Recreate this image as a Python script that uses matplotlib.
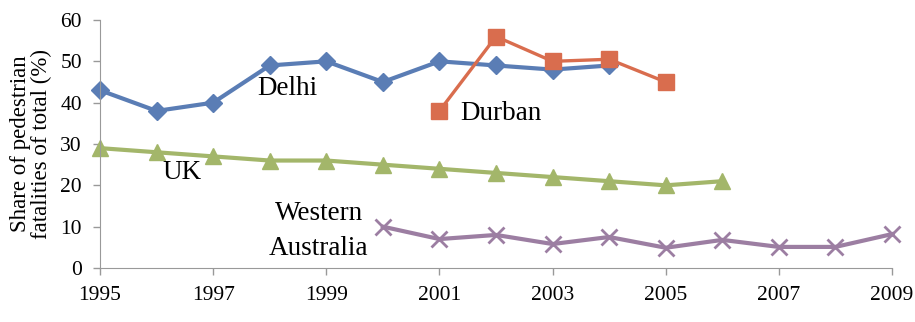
import matplotlib
matplotlib.use('Agg')
import matplotlib.pyplot as plt

plt.rcParams['font.family'] = ['Liberation Serif', 'DejaVu Serif']

# share of pedestrian fatalities (%) by year
delhi_years = [1995, 1996, 1997, 1998, 1999, 2000, 2001, 2002, 2003, 2004]
delhi = [43, 38, 40, 49, 50, 45, 50, 49, 48, 49]

durban_years = [2001, 2002, 2003, 2004, 2005]
durban = [38, 56, 50, 50.5, 45]

uk_years = [1995, 1996, 1997, 1998, 1999, 2000, 2001, 2002, 2003, 2004, 2005, 2006]
uk = [29, 28, 27, 26, 26, 25, 24, 23, 22, 21, 20, 21]

wa_years = [2000, 2001, 2002, 2003, 2004, 2005, 2006, 2007, 2008, 2009]
wa = [10, 7, 8, 5.8, 7.5, 4.9, 6.8, 5.1, 5.1, 8.2]

year_ticks = [1995, 1997, 1999, 2001, 2003, 2005, 2007, 2009]
y_ticks = [0, 10, 20, 30, 40, 50, 60]

fig = plt.figure(figsize=(9.15, 3.22), dpi=100)
ax = fig.add_axes([100 / 915, 54 / 322, 792 / 915, 248 / 322])

ax.plot(delhi_years, delhi, color='#5a7db5', lw=3, marker='D', ms=9, clip_on=False)
ax.plot(durban_years, durban, color='#d96d4e', lw=2.4, marker='s', ms=11, clip_on=False)
ax.plot(uk_years, uk, color='#a3b66a', lw=3, marker='^', ms=12, clip_on=False)
ax.plot(wa_years, wa, color='#9c7ea2', lw=3, marker='x', ms=12, mew=2, clip_on=False)

ax.set_xlim(1995, 2009)
ax.set_ylim(0, 60)
ax.set_xticks(year_ticks)
ax.set_yticks(y_ticks)
ax.tick_params(labelsize=15.5, color='#999999', length=5, width=1)
ax.tick_params(axis='x', pad=8)
ax.tick_params(axis='y', pad=8)
for side in ['top', 'right']:
    ax.spines[side].set_visible(False)
for side in ['left', 'bottom']:
    ax.spines[side].set_color('#999999')

ax.set_ylabel('Share of pedestrian\nfatalities of total (%)', fontsize=16.5, linespacing=1.0, labelpad=6)

# series names placed next to their lines
ax.text(1997.78, 43.5, 'Delhi', fontsize=19.5, va='center')
ax.text(2001.36, 37.5, 'Durban', fontsize=19.5, va='center')
ax.text(1996.1, 23, 'UK', fontsize=19.5, va='center')
ax.text(1998.87, 13.3, 'Western', fontsize=19.5, ha='center', va='center')
ax.text(1998.87, 4.8, 'Australia', fontsize=19.5, ha='center', va='center')

fig.savefig('out.png', dpi=100)
